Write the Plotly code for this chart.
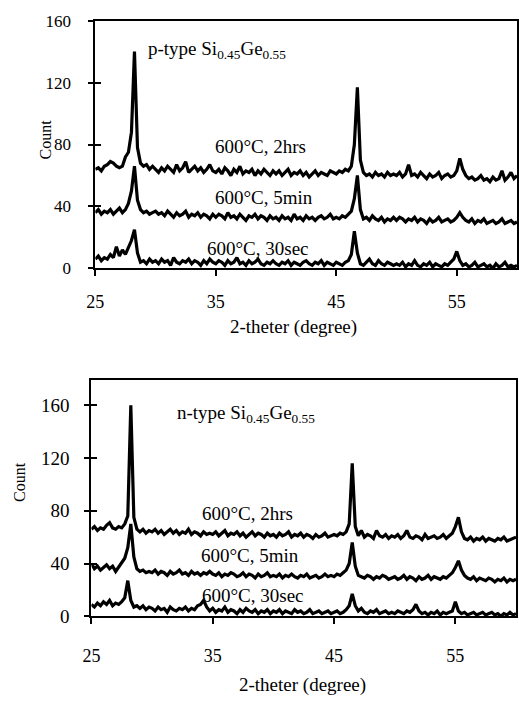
import numpy as np
import plotly.graph_objects as go

# 2-theta grid (degrees), 0.25 step from 25 to 60
two_theta = np.round(np.arange(25.0, 60.0001, 0.25), 2)

# ---------------- p-type Si0.45Ge0.55 (top panel) ----------------
p_2hrs = [
    64, 65, 63, 66, 67, 69, 68, 66, 65, 66, 72, 75, 88, 140, 78, 68, 66, 67, 64, 66,
    64, 62, 65, 63, 66, 64, 62, 67, 63, 65, 69, 62, 64, 66, 63, 65, 62, 64, 67, 63,
    62, 64, 61, 65, 63, 60, 64, 62, 66, 61, 63, 62, 64, 60, 63, 61, 64, 62, 60, 63,
    61, 63, 60, 62, 64, 60, 62, 61, 63, 60, 62, 59, 61, 63, 60, 62, 61, 60, 63, 62,
    61, 63, 62, 64, 63, 66, 80, 117, 70, 62, 60, 61, 59, 62, 60, 61, 59, 62, 60, 61,
    60, 62, 59, 61, 67, 60, 61, 59, 62, 60, 58, 61, 59, 60, 62, 58, 60, 61, 59, 60,
    63, 71, 64, 60, 58, 59, 57, 58, 60, 57, 58, 56, 59, 57, 58, 63, 57, 59, 62, 58,
    60,
]
p_5min = [
    36, 38, 35, 37, 36, 38, 35, 37, 39, 36, 38, 42, 50, 66, 44, 38, 36, 37, 35, 36,
    37, 35, 36, 34, 37, 35, 33, 36, 34, 35, 37, 33, 35, 34, 36, 33, 35, 34, 32, 35,
    33, 35, 34, 32, 36, 33, 34, 32, 35, 33, 31, 34, 33, 35, 32, 34, 33, 31, 34, 32,
    33, 31, 34, 32, 33, 31, 35, 32, 33, 31, 34, 32, 33, 31, 33, 34, 32, 33, 35, 32,
    33, 32, 34, 33, 35, 37, 45, 60, 38, 32, 33, 31, 34, 32, 31, 33, 30, 32, 31, 33,
    31, 33, 32, 30, 32, 31, 33, 30, 32, 31, 29, 32, 30, 31, 33, 30, 31, 32, 30, 31,
    33, 36, 33, 31, 30, 32, 29, 31, 30, 32, 29, 30, 31, 29, 30, 32, 29, 30, 31, 29,
    30,
]
p_30sec = [
    6, 8, 5, 7, 6, 9, 7, 14, 8, 12, 9, 13, 18, 25, 10, 4, 5, 3, 6, 4,
    5, 3, 6, 4, 5, 2, 7, 4, 3, 5, 4, 6, 3, 5, 4, 2, 5, 3, 6, 4,
    3, 5, 4, 2, 5, 3, 4, 7, 3, 4, 2, 5, 3, 4, 6, 3, 2, 4, 3, 5,
    3, 2, 4, 3, 5, 2, 4, 3, 2, 4, 5, 3, 2, 4, 3, 5, 2, 4, 3, 2,
    4, 3, 2, 4, 5, 9, 24, 10, 3, 2, 4, 6, 3, 2, 5, 3, 2, 4, 3, 2,
    3, 2, 4, 1, 3, 2, 5, 2, 1, 3, 2, 4, 1, 3, 2, 1, 3, 2, 4, 6,
    11, 5, 2, 3, 1, 2, 4, 1, 2, 3, 1, 2, 0, 3, 1, 2, 4, 1, 2, 1,
    2,
]

# ---------------- n-type Si0.45Ge0.55 (bottom panel) ----------------
n_2hrs = [
    66, 68, 65, 67, 66, 69, 71, 67, 66, 68, 67, 70, 76, 160, 75, 66, 64, 66, 63, 65,
    64, 66, 63, 65, 62, 64, 66, 63, 65, 62, 64, 63, 66, 62, 64, 63, 61, 64, 62, 63,
    62, 64, 61, 63, 65, 61, 63, 62, 64, 61, 63, 60, 62, 64, 61, 63, 62, 60, 63, 61,
    62, 60, 63, 61, 62, 64, 60, 62, 61, 63, 60, 62, 61, 59, 62, 60, 61, 63, 60, 61,
    62, 61, 63, 62, 64, 70, 116, 68, 61, 65, 60, 62, 61, 59, 65, 61, 60, 62, 59, 61,
    60, 62, 59, 61, 65, 60, 59, 61, 60, 58, 62, 59, 60, 61, 59, 60, 62, 59, 61, 63,
    68, 75, 64, 59, 58, 60, 57, 59, 58, 60, 57, 59, 58, 57, 59, 58, 60, 57, 58, 59,
    60,
]
n_5min = [
    40, 36, 38, 35, 37, 39, 36, 38, 34, 37, 40, 44, 52, 70, 45, 36, 34, 35, 33, 34,
    33, 35, 32, 34, 33, 31, 34, 32, 33, 35, 32, 33, 31, 34, 32, 33, 31, 33, 32, 34,
    32, 31, 33, 30, 32, 31, 33, 32, 30, 31, 33, 30, 32, 31, 29, 32, 30, 31, 33, 30,
    31, 30, 32, 29, 31, 30, 32, 30, 29, 31, 30, 32, 29, 30, 31, 29, 30, 32, 30, 31,
    30, 32, 31, 33, 35, 40, 56, 38, 31, 30, 29, 31, 30, 28, 30, 29, 31, 30, 28, 29,
    30, 28, 29, 31, 28, 30, 29, 27, 30, 28, 29, 31, 28, 30, 29, 28, 30, 29, 31, 33,
    37, 42, 35, 31, 29, 28, 30, 27, 29, 28, 27, 29, 28, 26, 28, 27, 29, 26, 28, 27,
    28,
]
n_30sec = [
    9, 7, 10, 8, 11, 9, 12, 8, 10, 9, 11, 14, 27, 12, 7, 8, 6, 8, 5, 7,
    6, 4, 7, 5, 6, 3, 7, 5, 4, 6, 5, 7, 4, 6, 5, 8, 9, 12, 7, 4,
    6, 3, 5, 4, 7, 3, 5, 4, 2, 5, 3, 6, 4, 3, 5, 2, 4, 3, 5, 2,
    4, 3, 5, 2, 4, 3, 2, 5, 3, 4, 2, 3, 5, 2, 3, 4, 2, 3, 4, 2,
    3, 4, 2, 3, 5, 8, 17, 8, 4, 6, 3, 2, 4, 3, 5, 2, 3, 4, 2, 3,
    2, 4, 3, 2, 4, 3, 5, 9, 4, 2, 3, 1, 3, 2, 4, 1, 3, 2, 3, 4,
    11, 4, 2, 3, 1, 2, 3, 1, 2, 3, 1, 2, 3, 1, 2, 0, 2, 1, 3, 1,
    2,
]

series_labels = ["600°C, 2hrs", "600°C, 5min", "600°C, 30sec"]
x_ticks = [25, 35, 45, 55]
y_ticks = [0, 40, 80, 120, 160]

for arr in (p_2hrs, p_5min, p_30sec, n_2hrs, n_5min, n_30sec):
    assert len(arr) == len(two_theta)

FONT = "Liberation Serif"
LINE = dict(color="black", width=3.2)

fig = go.Figure()
for ys in (p_2hrs, p_5min, p_30sec):
    fig.add_trace(go.Scatter(x=two_theta, y=ys, mode="lines", line=LINE,
                             xaxis="x", yaxis="y", showlegend=False, hoverinfo="skip"))
for ys in (n_2hrs, n_5min, n_30sec):
    fig.add_trace(go.Scatter(x=two_theta, y=ys, mode="lines", line=LINE,
                             xaxis="x2", yaxis="y2", showlegend=False, hoverinfo="skip"))
# dummy traces so the inner-tick overlay axes are drawn
fig.add_trace(go.Scatter(x=[None], y=[None], xaxis="x", yaxis="y3", showlegend=False))
fig.add_trace(go.Scatter(x=[None], y=[None], xaxis="x2", yaxis="y4", showlegend=False))

axis_common = dict(showgrid=False, zeroline=False, showline=True, linecolor="black",
                   linewidth=2, mirror=True, tickcolor="black", tickwidth=1.5)

top_x_dom = [88 / 519, 518 / 519]
top_y_dom = [438 / 705, 693 / 705]
bot_x_dom = [84 / 519, 517 / 519]
bot_y_dom = [80 / 705, 323 / 705]

fig.update_layout(
    width=519, height=705,
    margin=dict(l=0, r=0, t=0, b=0),
    paper_bgcolor="white", plot_bgcolor="white",
    font=dict(family=FONT, color="black"),
    xaxis=dict(domain=top_x_dom, anchor="y", range=[25, 60], tickvals=x_ticks,
               ticks="outside", ticklen=6, ticklabelstandoff=10,
               tickfont=dict(size=18), **axis_common),
    yaxis=dict(domain=top_y_dom, anchor="x", range=[0, 160], tickvals=y_ticks,
               ticks="outside", ticklen=5, ticklabelstandoff=14,
               tickfont=dict(size=17), **axis_common),
    yaxis3=dict(overlaying="y", anchor="x", range=[0, 160], tickvals=y_ticks,
                ticks="inside", ticklen=6, tickcolor="black", tickwidth=1.5,
                showticklabels=False, showline=False, showgrid=False, zeroline=False),
    xaxis2=dict(domain=bot_x_dom, anchor="y2", range=[25, 60], tickvals=x_ticks,
                ticks="outside", ticklen=6, ticklabelstandoff=16,
                tickfont=dict(size=18), **axis_common),
    yaxis2=dict(domain=bot_y_dom, anchor="x2", range=[0, 179], tickvals=y_ticks,
                ticks="outside", ticklen=5, ticklabelstandoff=11,
                tickfont=dict(size=19), **axis_common),
    yaxis4=dict(overlaying="y2", anchor="x2", range=[0, 179], tickvals=y_ticks,
                ticks="inside", ticklen=6, tickcolor="black", tickwidth=1.5,
                showticklabels=False, showline=False, showgrid=False, zeroline=False),
)

ann = []
# panel titles
ann.append(dict(x=29.2, y=141, xref="x", yref="y", xanchor="left", yanchor="middle",
                text="p-type Si<sub>0.45</sub>Ge<sub>0.55</sub>", showarrow=False,
                font=dict(size=19)))
ann.append(dict(x=31.9, y=153, xref="x2", yref="y2", xanchor="left", yanchor="middle",
                text="n-type Si<sub>0.45</sub>Ge<sub>0.55</sub>", showarrow=False,
                font=dict(size=19)))
# series labels
for (xx, yy), lab in zip([(38.7, 79), (39.0, 46), (38.5, 13)], series_labels):
    ann.append(dict(x=xx, y=yy, xref="x", yref="y", text=lab, showarrow=False,
                    xanchor="center", yanchor="middle", font=dict(size=19)))
for (xx, yy), lab in zip([(37.9, 78), (38.1, 46), (38.3, 16)], series_labels):
    ann.append(dict(x=xx, y=yy, xref="x2", yref="y2", text=lab, showarrow=False,
                    xanchor="center", yanchor="middle", font=dict(size=19)))
# axis titles
ann.append(dict(x=290 / 519, y=1 - 327 / 705, xref="paper", yref="paper",
                xanchor="center", yanchor="middle",
                text="2-theter (degree)", showarrow=False, font=dict(size=19)))
ann.append(dict(x=299 / 519, y=1 - 696 / 705, xref="paper", yref="paper",
                xanchor="center", yanchor="middle",
                text="2-theter (degree)", showarrow=False, font=dict(size=19)))
ann.append(dict(x=37 / 519, y=1 - 134 / 705, xref="paper", yref="paper",
                xanchor="center", yanchor="middle",
                text="Count", textangle=-90, showarrow=False, font=dict(size=16)))
ann.append(dict(x=10 / 519, y=1 - 487 / 705, xref="paper", yref="paper",
                xanchor="center", yanchor="middle",
                text="Count", textangle=-90, showarrow=False, font=dict(size=16)))
fig.update_layout(annotations=ann)

fig.write_html("out.html")
